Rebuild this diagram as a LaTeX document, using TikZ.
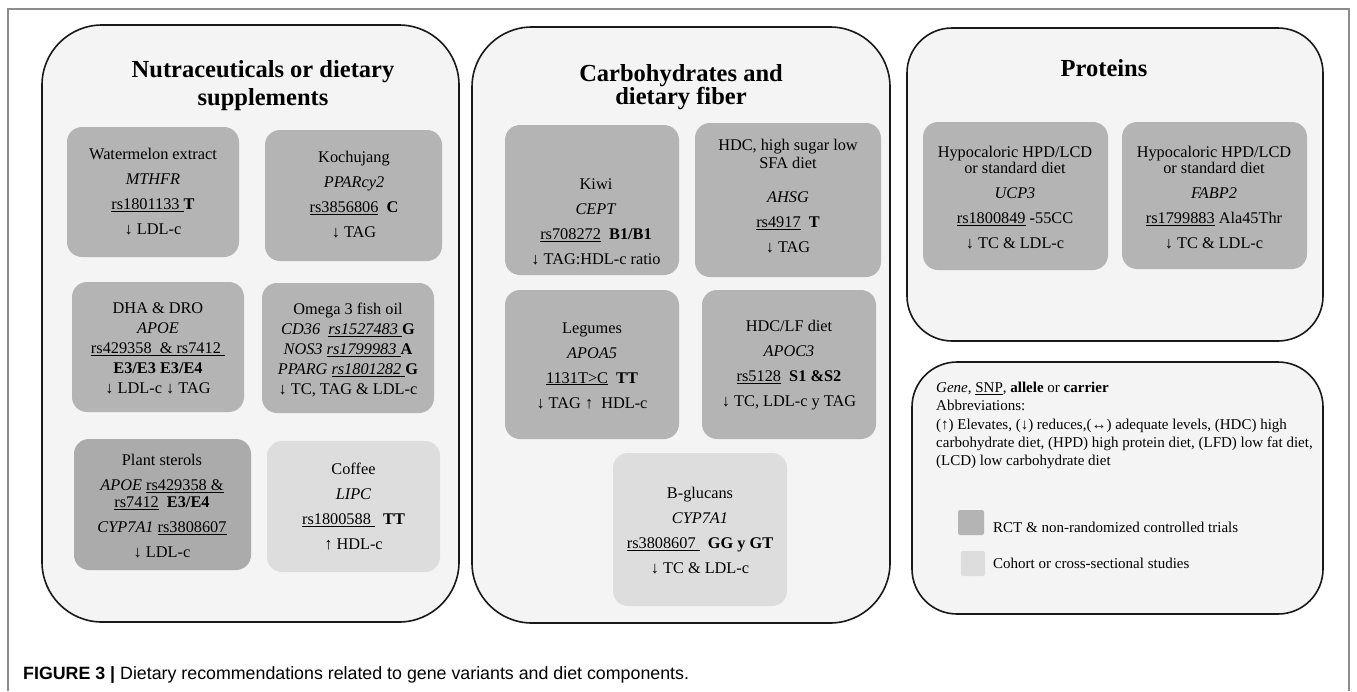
\documentclass[tikz,border=0pt]{standalone}
\usepackage{fontspec}
\setmainfont{Liberation Serif}
\newfontfamily\capfont{Liberation Sans}
\definecolor{panelfill}{HTML}{F4F4F4}
\definecolor{rctgray}{HTML}{B4B4B4}
\definecolor{cohortgray}{HTML}{DDDDDD}
\definecolor{framegray}{HTML}{8C8C8C}

\begin{document}
\begin{tikzpicture}[x=1pt, y=-1pt,
	panel/.style={draw=black!90, line width=1.6pt, fill=panelfill, rounded corners=60pt},
	smallpanel/.style={panel, rounded corners=45pt},
	rct/.style={fill=rctgray, rounded corners=15pt},
	cohort/.style={fill=cohortgray, rounded corners=15pt},
	title/.style={font=\fontsize{24.5}{28}\selectfont\bfseries, align=center, inner sep=0pt},
	txt/.style={font=\fontsize{16.3}{25}\selectfont, align=center, inner sep=0pt},
	txtb/.style={font=\fontsize{16.3}{20}\selectfont, align=center, inner sep=0pt},
	legtxt/.style={font=\fontsize{15}{18.3}\selectfont, align=left, inner sep=0pt}]
	
	% 1. 画布与外框
	\useasboundingbox (0,0) rectangle (1357,691);
	\fill[white] (0,0) rectangle (1357,691);
	\draw[framegray, line width=1.5pt] (8,691) -- (8,9) -- (1349,9) -- (1349,691);
	
	% 2. 四个大圆角面板
	\draw[panel] (42,25) rectangle (459,622);
	\draw[panel] (472,27) rectangle (890,623);
	\draw[smallpanel] (907,28) rectangle (1323,341);
	\draw[smallpanel] (912,362) rectangle (1323,614);
	
	% 3. 面板标题
	\node[title] (tnutra) at (263,85.4) {Nutraceuticals or dietary\\ supplements};
	\node[title, font=\fontsize{24.5}{23}\selectfont\bfseries] (tcarbo) at (681,86.9) {Carbohydrates and\\ dietary fiber};
	\node[title, anchor=base] (tprot) at (1104,76) {Proteins};
	
	% 4. 第一列：营养补充剂
	\fill[rct] (67,127) rectangle (239,257);
	\node[txt] (water) at (153,191.5) {Watermelon extract\\ \textit{MTHFR}\\ \underline{rs1801133 }\textbf{T}\\ ↓ LDL-c};
	
	\fill[rct] (265,130) rectangle (442,261);
	\node[txt] (kochu) at (354,195) {Kochujang\\ \textit{PPARcy2}\\ \underline{rs3856806}\ \ \textbf{C}\\ ↓ TAG};
	
	\fill[rct] (72,282) rectangle (244,412);
	\node[txtb] (dha) at (158,348) {DHA \& DRO\\ \textit{APOE}\\ \underline{rs429358\ \ \& rs7412 }\\ \textbf{E3/E3 E3/E4}\\ ↓ LDL-c ↓ TAG};
	
	\fill[rct] (262,283) rectangle (434,413);
	\node[txtb] (omega) at (348,350) {Omega 3 fish oil\\ \textit{CD36\ \ \underline{rs1527483 }}\textbf{G}\\ \textit{NOS3 \underline{rs1799983 }}\textbf{A}\\ \textit{PPARG \underline{rs1801282 }}\textbf{G}\\ ↓ TC, TAG \& LDL-c};
	
	\fill[rct, fill=rctgray!95!black] (74,439) rectangle (251,570);
	\node[txt] (sterol) at (162,505.8) {Plant sterols\\ \textit{APOE} \underline{rs429358 \&}\\[-8pt] \underline{rs7412}\ \ \textbf{E3/E4}\\ \textit{CYP7A1} \underline{rs3808607}\\ ↓ LDL-c};
	
	\fill[cohort] (267,441) rectangle (440,572);
	\node[txt] (coffee) at (353.5,506.5) {Coffee\\ \textit{LIPC}\\ \underline{rs1800588 }\ \ \textbf{TT}\\ ↑ HDL-c};
	
	% 5. 第二列：碳水化合物与膳食纤维
	\fill[rct] (505,125) rectangle (679,275);
	\node[txt] (kiwi) at (596,222) {Kiwi\\ \textit{CEPT}\\ \underline{rs708272}\ \ \textbf{B1/B1}\\ ↓ TAG:HDL-c ratio};
	
	\fill[rct] (695,123) rectangle (881,277);
	\node[txt] (hdcsugar) at (788,196.3) {HDC, high sugar low\\[-7pt] SFA diet\\[9pt] \textit{AHSG}\\ \underline{rs4917}\ \ \textbf{T}\\ ↓ TAG};
	
	\fill[rct] (505,290) rectangle (679,439);
	\node[txt] (legume) at (592,365.5) {Legumes\\ \textit{APOA5}\\ \underline{1131T>C}\ \ \textbf{TT}\\ ↓ TAG ↑\ \ HDL-c};
	
	\fill[rct] (702,290) rectangle (876,439);
	\node[txt] (hdclf) at (789,365.5) {HDC/LF diet\\ \textit{APOC3}\\ \underline{rs5128}\ \ \textbf{S1 \&S2}\\ ↓ TC, LDL-c y TAG};
	
	\fill[cohort] (613,453) rectangle (787,606);
	\node[txt] (glucan) at (700,530.5) {B-glucans\\ \textit{CYP7A1}\\ \underline{rs3808607 }\ \ \textbf{GG y GT}\\ ↓ TC \& LDL-c};
	
	% 6. 第三列：蛋白质
	\fill[rct] (923,122) rectangle (1108,270);
	\node[txt] (ucp) at (1015,197.8) {Hypocaloric HPD/LCD\\[-9pt] or standard diet\\ \textit{UCP3}\\ \underline{rs1800849} \textbf{-}55CC\\ ↓ TC \& LDL-c};
	
	\fill[rct] (1122,122) rectangle (1307,269);
	\node[txt] (fabp) at (1214,197.8) {Hypocaloric HPD/LCD\\[-9pt] or standard diet\\ \textit{FABP2}\\ \underline{rs1799883} Ala45Thr\\ ↓ TC \& LDL-c};
	
	% 7. 图例
	\node[legtxt, anchor=west] (legkey) at (936,425.7) {\textit{Gene}, \underline{SNP}, \textbf{allele} or \textbf{carrier}\\ Abbreviations:\\ (↑) Elevates, (↓) reduces,(↔) adequate levels, (HDC) high\\ carbohydrate diet, (HPD) high protein diet, (LFD) low fat diet,\\ (LCD) low carbohydrate diet};
	
	\fill[rct, rounded corners=2pt] (958,510) rectangle (984,535);
	\node[legtxt, anchor=west] (legrct) at (993,527) {RCT \& non-randomized controlled trials};
	\fill[cohort, rounded corners=2pt] (961,551) rectangle (985,576);
	\node[legtxt, anchor=west] (legcoh) at (993,563) {Cohort or cross-sectional studies};
	
	% 8. 图注
	\node[anchor=base west, inner sep=0pt, font=\fontsize{17.8}{20}\selectfont\capfont] (cap) at (23,679) {\textbf{FIGURE 3 |} Dietary recommendations related to gene variants and diet components.};
	
\end{tikzpicture}
\end{document}
